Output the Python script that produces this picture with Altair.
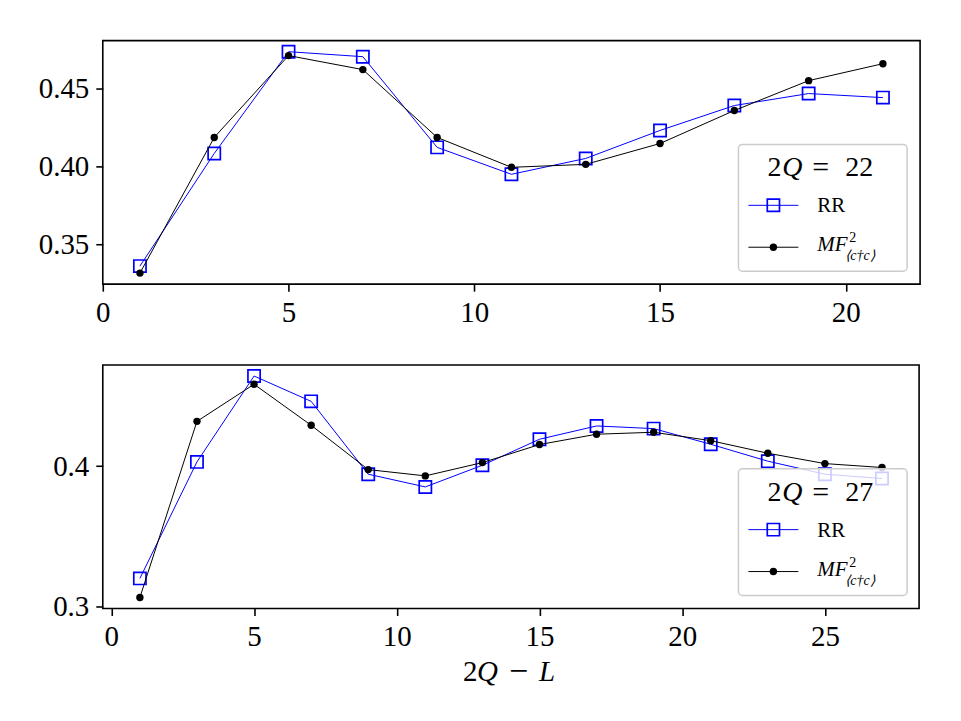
import altair as alt
import pandas as pd

# ---------------- data ----------------
x_top = [1, 3, 5, 7, 9, 11, 13, 15, 17, 19, 21]
rr_top = [0.3359, 0.4083, 0.4737, 0.4705, 0.4122, 0.3949, 0.4051, 0.4231, 0.4391, 0.4468, 0.4442]
mf_top = [0.3314, 0.4186, 0.4712, 0.4622, 0.4186, 0.3994, 0.4013, 0.4147, 0.4359, 0.4551, 0.4660]

x_bot = [1, 3, 5, 7, 9, 11, 13, 15, 17, 19, 21, 23, 25, 27]
rr_bot = [0.3198, 0.4031, 0.4645, 0.4464, 0.3943, 0.3852, 0.4007, 0.4193, 0.4288, 0.4269, 0.4157, 0.4036, 0.3943, 0.3912]
mf_bot = [0.3062, 0.4321, 0.4586, 0.4293, 0.3976, 0.3931, 0.4026, 0.4155, 0.4229, 0.4243, 0.4183, 0.4093, 0.4019, 0.3991]

top_xticks = [0, 5, 10, 15, 20]
top_yticks = [0.35, 0.40, 0.45]
bot_xticks = [0, 5, 10, 15, 20, 25]
bot_yticks = [0.3, 0.4]

FONT = "Liberation Serif"
BLUE = "#0000ff"
W, H = 819, 244


def txt(s, x, y, size, italic=False, align="left"):
    kw = dict(font=FONT, fontSize=size, align=align, baseline="middle", color="black")
    if italic:
        kw["fontStyle"] = "italic"
    return alt.Chart(pd.DataFrame({"t": [s]})).mark_text(**kw).encode(
        text="t:N", x=alt.value(x), y=alt.value(y))


def legend_layers(qlabel):
    one = pd.DataFrame({"a": [0]})
    box = alt.Chart(one).mark_rect(fill="white", fillOpacity=0.8, stroke="#cccccc",
                                   strokeWidth=1.5, cornerRadius=4).encode(
        x=alt.value(637), x2=alt.value(806), y=alt.value(104), y2=alt.value(231))
    l1 = alt.Chart(one).mark_rule(color=BLUE, strokeWidth=1).encode(
        x=alt.value(647), x2=alt.value(697), y=alt.value(165))
    p1 = alt.Chart(one).mark_point(shape="square", filled=False, color=BLUE, size=150,
                                   strokeWidth=1.7, opacity=1).encode(
        x=alt.value(672), y=alt.value(165))
    l2 = alt.Chart(one).mark_rule(color="black", strokeWidth=1).encode(
        x=alt.value(647), x2=alt.value(697), y=alt.value(207))
    p2 = alt.Chart(one).mark_point(shape="circle", filled=True, color="black", size=55,
                                   opacity=1).encode(
        x=alt.value(672), y=alt.value(207))
    return [box, l1, p1, l2, p2,
            txt("2", 666, 128, 28), txt("Q", 681, 128, 28, italic=True),
            txt("=", 711, 128, 30), txt(qlabel, 744, 128, 28),
            txt("RR", 716, 166, 21),
            txt("MF", 716, 205, 21, italic=True),
            txt("2", 748, 198, 14),
            txt("⟨c†c⟩", 744, 216, 14, italic=True)]


def panel(xs, rr, mf, xdom, ydom, xticks, yticks, yfmt, qlabel, extra=None, width=W):
    df = pd.DataFrame({"x": xs, "RR": rr, "MF": mf})
    xenc = alt.X("x:Q", scale=alt.Scale(domain=xdom, nice=False, zero=False),
                 axis=alt.Axis(values=xticks, format="d", title=None))
    base = alt.Chart(df)
    def yenc(f):
        return alt.Y(f + ":Q", scale=alt.Scale(domain=ydom, nice=False, zero=False),
                     axis=alt.Axis(values=yticks, format=yfmt, title=None))
    rr_line = base.mark_line(color=BLUE, strokeWidth=1).encode(x=xenc, y=yenc("RR"))
    rr_pts = base.mark_point(shape="square", filled=False, color=BLUE, size=150,
                             strokeWidth=1.7, opacity=1).encode(x=xenc, y=yenc("RR"))
    mf_line = base.mark_line(color="black", strokeWidth=1).encode(x=xenc, y=yenc("MF"))
    mf_pts = base.mark_point(shape="circle", filled=True, color="black", size=55,
                             opacity=1).encode(x=xenc, y=yenc("MF"))
    layers = [rr_line, rr_pts, mf_line, mf_pts] + legend_layers(qlabel)
    if extra:
        layers += extra
    return alt.layer(*layers).properties(width=width, height=H)


top = panel(x_top, rr_top, mf_top, [0, 22], [0.3243, 0.4808],
            top_xticks, top_yticks, ".2f", "22")

xtitle = [txt("2", 361, 308, 29), txt("Q", 375, 308, 29, italic=True),
          txt("−", 407, 308, 34), txt("L", 437, 308, 29, italic=True)]
bottom = panel(x_bot, rr_bot, mf_bot, [-0.3, 28.3], [0.2983, 0.4724],
               bot_xticks, bot_yticks, ".1f", "27", extra=xtitle, width=818)

chart = alt.vconcat(top, bottom, spacing=36).configure(
    padding={"left": 37, "top": 39, "right": 40, "bottom": 20},
    background="white",
).configure_view(
    stroke="black", strokeWidth=1.6
).configure_axis(
    domain=False, grid=False, ticks=True, tickColor="black", tickWidth=1.6,
    tickSize=7, labelPadding=7, labelFont=FONT, labelFontSize=29,
    labelColor="black", labelFlush=False, labelOverlap=False
)

chart.save("out.html", embed_options={"renderer": "svg", "actions": False})
